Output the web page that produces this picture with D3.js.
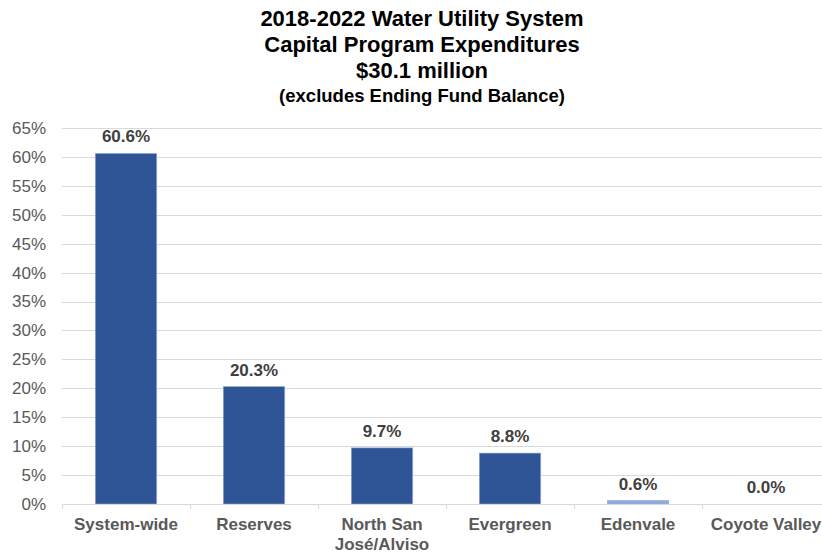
<!DOCTYPE html>
<html lang="en">
<head>
  <meta charset="UTF-8">
  <title>Water Utility System Capital Program</title>
  <script src="https://d3js.org/d3.v7.min.js"></script>
  <style>
    body { margin: 0; background: #fff; }
    svg { font-family: "Liberation Sans", Arial, sans-serif; }
  </style>
</head>
<body>
  <svg id="chart" width="822" height="554"></svg>
  <script>
    // chart data
    const categories = ["System-wide", "Reserves", "North San\nJosé/Alviso", "Evergreen", "Edenvale", "Coyote Valley"];
    const shares = [60.6, 20.3, 9.7, 8.8, 0.6, 0.0];
    const yTicks = [0, 5, 10, 15, 20, 25, 30, 35, 40, 45, 50, 55, 60, 65];
    const titleLines = [
      "2018-2022 Water Utility System",
      "Capital Program Expenditures",
      "$30.1 million",
      "(excludes Ending Fund Balance)"
    ];

    const svg = d3.select("#chart");
    const plotLeft = 62, plotRight = 830, plotTop = 128, plotBottom = 504;

    const x = d3.scaleBand().domain(categories).range([plotLeft, plotRight]).paddingInner(0.52).paddingOuter(0.26);
    const y = d3.scaleLinear().domain([0, 65]).range([plotBottom, plotTop]);

    // title
    const title = svg.append("g").attr("text-anchor", "middle").attr("font-weight", "bold").attr("fill", "#000");
    titleLines.forEach((t, i) => {
      title.append("text")
        .attr("x", 422)
        .attr("y", [26, 52, 78, 102][i])
        .attr("font-size", i < 3 ? 22 : 18.5)
        .text(t);
    });

    // gridlines
    svg.append("g").selectAll("line").data(yTicks.filter(d => d > 0)).enter().append("line")
      .attr("x1", plotLeft).attr("x2", 822)
      .attr("y1", d => Math.round(y(d)) + 0.5).attr("y2", d => Math.round(y(d)) + 0.5)
      .attr("stroke", "#d9d9d9").attr("stroke-width", 1);

    // y axis labels
    const yAxis = svg.append("g").attr("transform", `translate(${plotLeft},0)`)
      .call(d3.axisLeft(y).tickValues(yTicks).tickFormat(d => d + "%").tickSize(0).tickPadding(16));
    yAxis.select(".domain").remove();
    yAxis.selectAll("text").attr("font-size", 17).attr("fill", "#595959")
      .attr("font-family", "Liberation Sans, Arial, sans-serif");

    // bars
    svg.append("g").selectAll("rect").data(shares).enter().append("rect")
      .attr("x", (d, i) => x(categories[i]))
      .attr("width", x.bandwidth())
      .attr("y", d => y(d))
      .attr("height", d => plotBottom - y(d))
      .attr("fill", (d, i) => i === 4 ? "#8faadc" : "#2f5597")
      .attr("stroke", "#8faadc").attr("stroke-width", 0.6);

    // value labels
    svg.append("g").selectAll("text").data(shares).enter().append("text")
      .attr("x", (d, i) => x(categories[i]) + x.bandwidth() / 2)
      .attr("y", d => y(d) - 11)
      .attr("text-anchor", "middle")
      .attr("font-size", 17).attr("font-weight", "bold").attr("fill", "#404040")
      .text(d => d.toFixed(1) + "%");

    // x axis line and category separators
    svg.append("line").attr("x1", plotLeft).attr("x2", 822).attr("y1", plotBottom + 0.5).attr("y2", plotBottom + 0.5)
      .attr("stroke", "#d9d9d9").attr("stroke-width", 1);
    const bandStep = (plotRight - plotLeft) / categories.length;
    svg.append("g").selectAll("line").data(d3.range(categories.length + 1)).enter().append("line")
      .attr("x1", i => plotLeft + i * bandStep + 0.5)
      .attr("x2", i => plotLeft + i * bandStep + 0.5)
      .attr("y1", plotBottom).attr("y2", plotBottom + 5)
      .attr("stroke", "#d9d9d9");

    const xl = svg.append("g").selectAll("text").data(categories).enter().append("text")
      .attr("x", d => x(d) + x.bandwidth() / 2)
      .attr("y", 530)
      .attr("text-anchor", "middle")
      .attr("font-size", 17).attr("font-weight", "bold").attr("fill", "#595959");
    xl.each(function(d) {
      d.split("\n").forEach((part, j) => {
        d3.select(this).append("tspan")
          .attr("x", x(d) + x.bandwidth() / 2)
          .attr("dy", j === 0 ? 0 : 20)
          .text(part);
      });
    });
  </script>
</body>
</html>
